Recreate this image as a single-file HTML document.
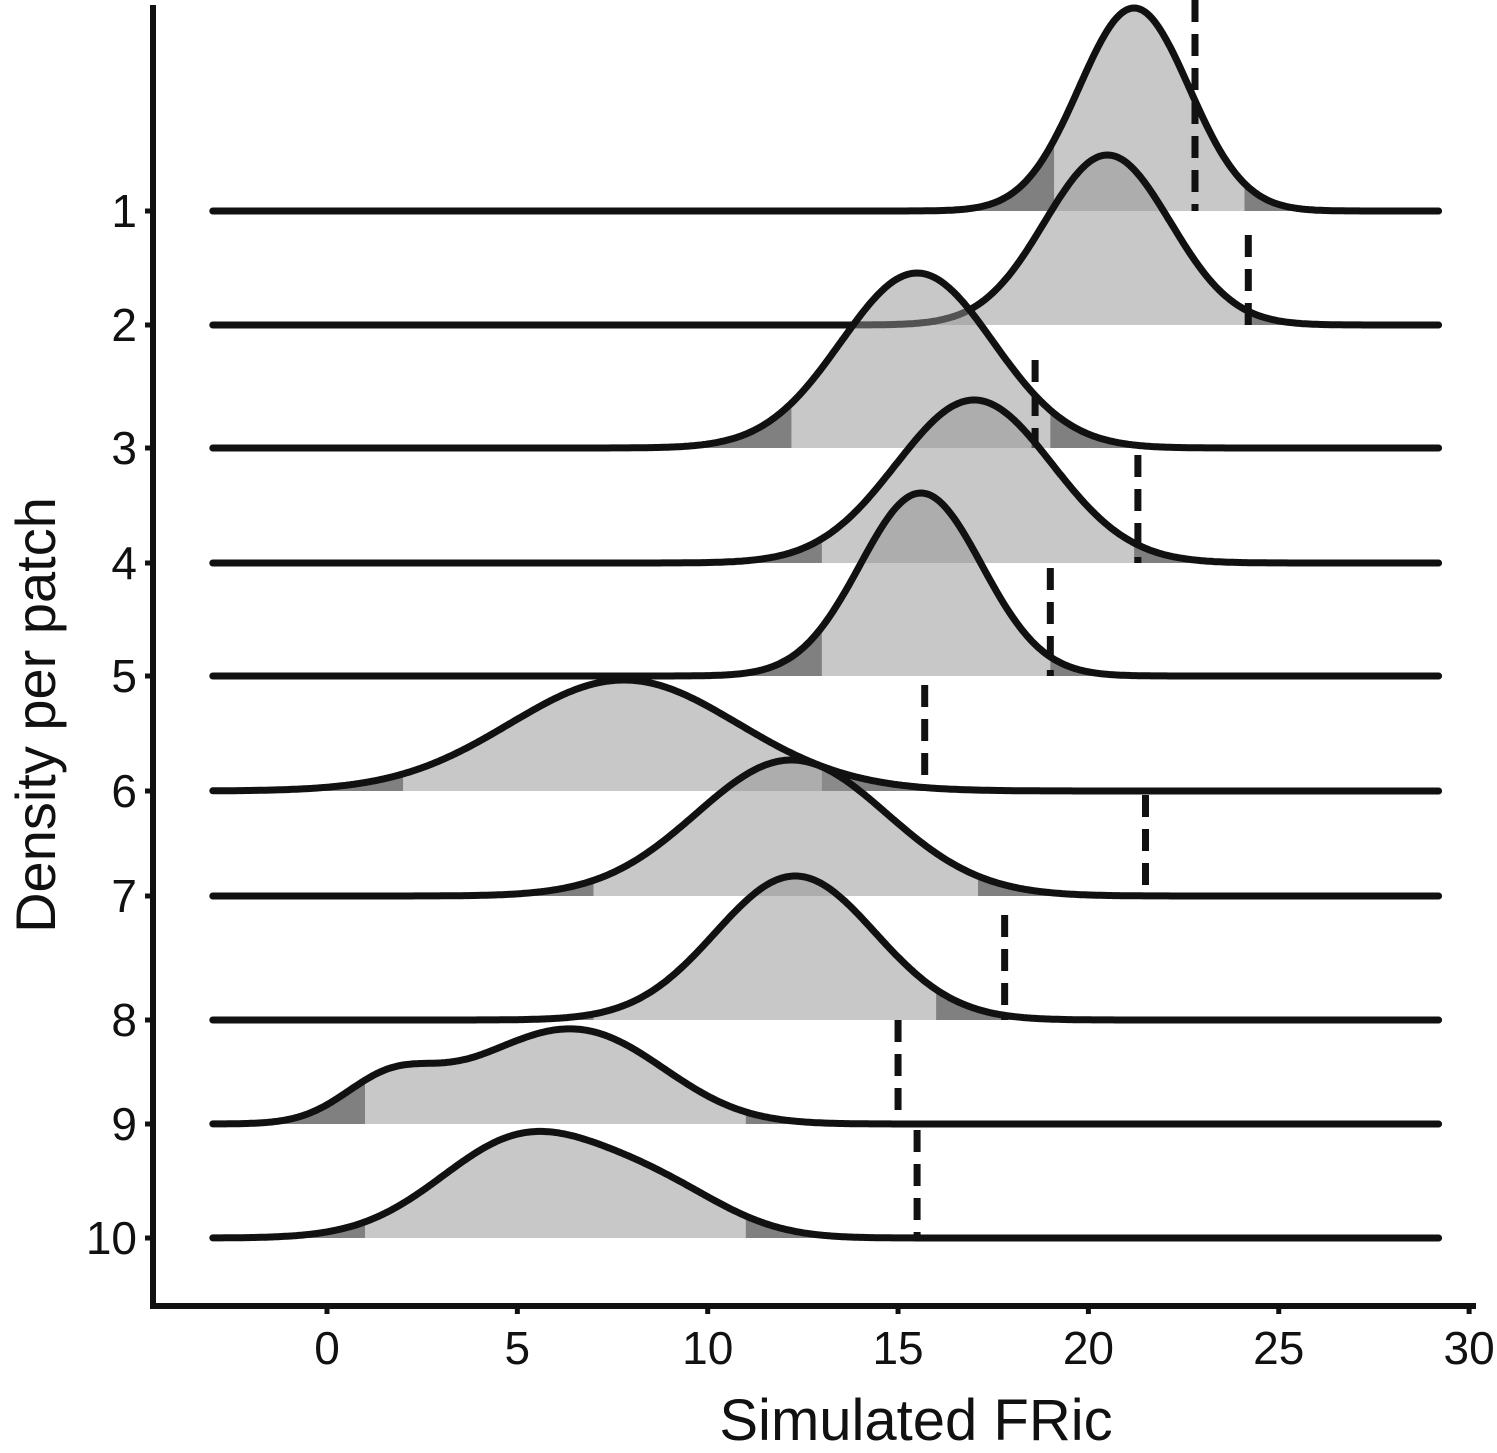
<!DOCTYPE html>
<html><head><meta charset="utf-8"><style>
body{margin:0;background:#fff}
svg{display:block}
text{font-family:"Liberation Sans",Arial,sans-serif;fill:#111}
</style></head><body>
<svg id="chart" width="1497" height="1453" viewBox="0 0 1497 1453" xmlns="http://www.w3.org/2000/svg">
<g id="ridges"></g>
<g id="axes"></g>
</svg>
<script>
const rowLabels = ["1","2","3","4","5","6","7","8","9","10"];
const rowBaselines = [211,325,448,563,676,791,896,1020,1124,1238];
// gaussian components per row: means, sds, peak heights (px)
const compMeans = [[21.2],[20.5],[15.5],[17.0],[15.6],[7.8],[12.2],[12.3],[1.6,4.5,7.2],[5.2,8.8]];
const compSds = [[1.45],[1.65],[2.0],[2.05],[1.6],[3.0],[2.5],[2.1],[1.2,2.0,2.0],[2.2,1.8]];
const compHeights = [[203],[170],[175],[163],[183],[111],[136],[144],[38,45,72],[100,40]];
const lowerQ = [19.1,16.0,12.2,13.0,13.0,2.0,7.0,7.0,1.0,1.0];
const upperQ = [24.1,24.1,19.0,21.2,19.0,13.0,17.1,16.0,11.0,11.0];
const observed = [22.8,24.2,18.6,21.3,19.0,15.7,21.5,17.8,15.0,15.5];
const obsTop = [0,235,360,455,568,685,795,915,1020,1130];
const xTicks = [0,5,10,15,20,25,30];

const NS="http://www.w3.org/2000/svg";
const X = v => 327 + v*38.07;
const xMin=-3, xMax=29.2;
function dens(i,v){let s=0;for(let k=0;k<compMeans[i].length;k++){const z=(v-compMeans[i][k])/compSds[i][k];s+=compHeights[i][k]*Math.exp(-0.5*z*z);}return s;}
function mk(tag,attrs,parent){const e=document.createElementNS(NS,tag);for(const k in attrs)e.setAttribute(k,attrs[k]);parent.appendChild(e);return e;}
const ridges=document.getElementById('ridges');
function areaPath(i,a,b){const y0=rowBaselines[i];let d=`M${X(a)},${y0}`;for(let v=a;v<=b+1e-9;v+=0.05)d+=` L${X(v).toFixed(1)},${(y0-dens(i,v)).toFixed(1)}`;d+=` L${X(b)},${(y0-dens(i,b)).toFixed(1)} L${X(b)},${y0} Z`;return d;}
for(let i=0;i<rowLabels.length;i++){
  const g=mk('g',{},ridges);
  
  
  const t1=mk('path',{d:areaPath(i,xMin,lowerQ[i]),fill:'rgb(6,6,6)','fill-opacity':0.51},g);
  
  
  const mid=mk('path',{d:areaPath(i,lowerQ[i],upperQ[i]),fill:'rgb(147,147,147)','fill-opacity':0.51},g);
  
  
  const t2=mk('path',{d:areaPath(i,upperQ[i],xMax),fill:'rgb(6,6,6)','fill-opacity':0.51},g);
  
  
  let d='';for(let v=xMin;v<=xMax+1e-9;v+=0.05)d+=(d?' L':'M')+X(v).toFixed(1)+','+(rowBaselines[i]-dens(i,v)).toFixed(1);
  const line=mk('path',{d:d,fill:'none',stroke:'#111','stroke-width':7,'stroke-linecap':'round','stroke-linejoin':'round'},g);
  
  
  const obs=mk('line',{x1:X(observed[i]),x2:X(observed[i]),y1:obsTop[i],y2:rowBaselines[i],stroke:'#111','stroke-width':7,'stroke-dasharray':'22 12'},g);
  
  
}
const axes=document.getElementById('axes');
const ya=mk('line',{x1:153,x2:153,y1:5,y2:1307,stroke:'#111','stroke-width':6},axes);


const xa=mk('line',{x1:150,x2:1476,y1:1306,y2:1306,stroke:'#111','stroke-width':6},axes);


for(let i=0;i<rowLabels.length;i++){
  const tk=mk('line',{x1:145,x2:153,y1:rowBaselines[i],y2:rowBaselines[i],stroke:'#111','stroke-width':5},axes);
  
  
  const t=mk('text',{x:137,y:rowBaselines[i]+16,'font-size':46,'text-anchor':'end'},axes);
  t.textContent=rowLabels[i];
  
  
}
for(const v of xTicks){
  const tk=mk('line',{x1:X(v),x2:X(v),y1:1306,y2:1314,stroke:'#111','stroke-width':5},axes);
  
  
  const t=mk('text',{x:X(v),y:1364,'font-size':46,'text-anchor':'middle'},axes);
  t.textContent=v;
  
  
}
const xt=mk('text',{x:916,y:1440,'font-size':58,'text-anchor':'middle'},axes);
xt.textContent='Simulated FRic';


const yt=mk('text',{x:0,y:0,'font-size':56,'text-anchor':'middle',transform:'translate(55,715) rotate(-90)'},axes);
yt.textContent='Density per patch';


</script>
</body></html>
